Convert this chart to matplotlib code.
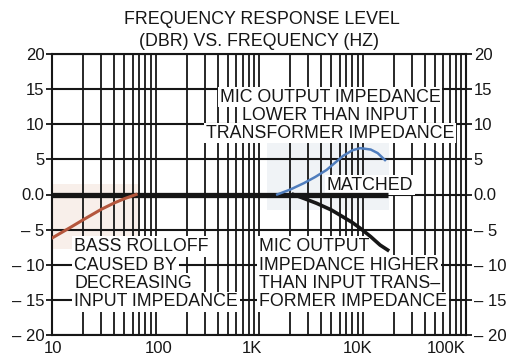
import matplotlib
matplotlib.use("Agg")
import matplotlib.pyplot as plt
import matplotlib.transforms as mtransforms
from matplotlib.patches import Rectangle

plt.rcParams['font.family'] = ['Liberation Sans', 'DejaVu Sans']

# ---- data ----
freq_bass = [10, 15, 20, 30, 40, 50, 65]
level_bass = [-6.2, -4.7, -3.6, -2.1, -1.2, -0.6, 0.0]

freq_matched = [1500, 2000, 2700, 3500, 4500, 6500, 8000, 9500, 12000, 14000, 16500]
level_matched = [0.0, 0.7, 1.6, 2.5, 3.5, 5.5, 6.3, 6.6, 6.4, 5.9, 4.9]

freq_high = [2150, 3000, 3600, 5000, 6500, 8000, 9500, 12000, 14800, 17500]
level_high = [0.0, -0.8, -1.25, -2.2, -3.2, -4.0, -4.8, -6.0, -7.2, -7.9]

freq_flat = [10, 17500]
level_flat = [0.0, 0.0]

x_ticks = [10, 100, 1000, 10000, 100000]
x_ticklabels = ["10", "100", "1K", "10K", "100K"]
y_ticks = [-20, -15, -10, -5, 0, 5, 10, 15, 20]
y_ticklabels = ["\u2013 20", "\u2013 15", "\u2013 10", "\u2013 5", "0.0", "5", "10", "15", "20"]

title_lines = ["FREQUENCY RESPONSE LEVEL", "(DBR) VS. FREQUENCY (HZ)"]
note_low = ["MIC OUTPUT IMPEDANCE", "LOWER THAN INPUT", "TRANSFORMER IMPEDANCE"]
note_matched = "MATCHED"
note_bass = ["BASS ROLLOFF", "CAUSED BY", "DECREASING", "INPUT IMPEDANCE"]
note_high = ["MIC OUTPUT", "IMPEDANCE HIGHER", "THAN INPUT TRANS\u2013", "FORMER IMPEDANCE"]

# ---- figure ----
W, H = 508, 356
fig = plt.figure(figsize=(W / 100, H / 100), dpi=100)
ax = fig.add_axes([52 / W, 21 / H, 414 / W, 281 / H])
ax.set_xscale('log')
ax.set_xlim(10, 100000)
ax.set_ylim(-20, 20)

ink = '#161616'
minor = [m * 10 ** d for d in range(1, 5) for m in range(2, 10)]
ax.set_xticks(x_ticks)
ax.set_xticklabels(x_ticklabels)
ax.set_xticks(minor, minor=True)
ax.xaxis.set_minor_formatter(matplotlib.ticker.NullFormatter())
ax.set_yticks(y_ticks)
ax.set_yticklabels(y_ticklabels)
ax.tick_params(axis='x', which='both', length=0, pad=4.5, labelsize=12, colors=ink)
ax.tick_params(axis='y', which='both', length=4, width=1.3, direction='out', pad=1.5,
               labelsize=12, colors=ink, left=True, right=True,
               labelleft=True, labelright=True)

# small horizontal shifts of the x labels, as in the scanned original
shifts_px = [1, 3, -7, -5, 0]
for lab, dx in zip(ax.get_xticklabels(), shifts_px):
    lab.set_transform(lab.get_transform() +
                      mtransforms.ScaledTranslation(dx / 100, 0, fig.dpi_scale_trans))
ax.get_xticklabels()[-1].set_horizontalalignment('right')

ax.grid(True, which='both', axis='x', color=ink, lw=1.3, zorder=1)
ax.grid(True, which='major', axis='y', color=ink, lw=1.5, zorder=1)
ax.set_axisbelow(True)
for s in ax.spines.values():
    s.set_linewidth(1.5)
    s.set_color(ink)

# faint scan tint behind curves (extents from data)
ax.add_patch(Rectangle((min(freq_bass), min(level_bass) - 1.5),
                       max(freq_bass) * 1.1 - min(freq_bass),
                       max(level_bass) - min(level_bass) + 3.0,
                       facecolor='#f8efea', edgecolor='none', zorder=0.5))
ax.add_patch(Rectangle((min(freq_matched) * 0.8, -2.2),
                       max(freq_matched) * 1.1 - min(freq_matched) * 0.8,
                       max(level_matched) + 4.0,
                       facecolor='#f0f3f6', edgecolor='none', zorder=0.5))

# curves
ax.plot(freq_flat, level_flat, color=ink, lw=3.8, solid_capstyle='butt', zorder=5)
ax.plot(freq_bass, level_bass, color='#b4563c', lw=2.2, zorder=5)
ax.plot(freq_matched, level_matched, color='#4f7dbd', lw=1.8, zorder=5)
ax.plot(freq_high, level_high, color=ink, lw=2.6, zorder=5)

box = dict(boxstyle='square,pad=0.1', facecolor='white', edgecolor='none')
fs = 12.8


def ax_x(px):
    return (px - 52) / 414


def ax_y(py):
    return (335 - py) / 281


for txt, py in zip(note_low, [97, 115, 133]):
    ax.text(ax_x(330), ax_y(py), txt, transform=ax.transAxes, ha='center', va='center',
            fontsize=fs, color=ink, bbox=box, zorder=3)
ax.text(ax_x(370), ax_y(185), note_matched, transform=ax.transAxes, ha='center',
        va='center', fontsize=fs, color=ink, bbox=box, zorder=3)
for txt, py in zip(note_bass, [246.7, 265.3, 283.5, 302]):
    ax.text(ax_x(74), ax_y(py), txt, transform=ax.transAxes, ha='left', va='center',
            fontsize=fs, color=ink, bbox=box, zorder=3)
for txt, py in zip(note_high, [246.7, 265.3, 283.5, 302]):
    ax.text(ax_x(259), ax_y(py), txt, transform=ax.transAxes, ha='left', va='center',
            fontsize=fs, color=ink, bbox=box, zorder=3)

fig.text(262 / W, 1 - 20 / H, title_lines[0], ha='center', va='center', fontsize=12.8, color=ink)
fig.text(259 / W, 1 - 41 / H, title_lines[1], ha='center', va='center', fontsize=12.8, color=ink)

fig.savefig('out.png', dpi=100, facecolor='white')
